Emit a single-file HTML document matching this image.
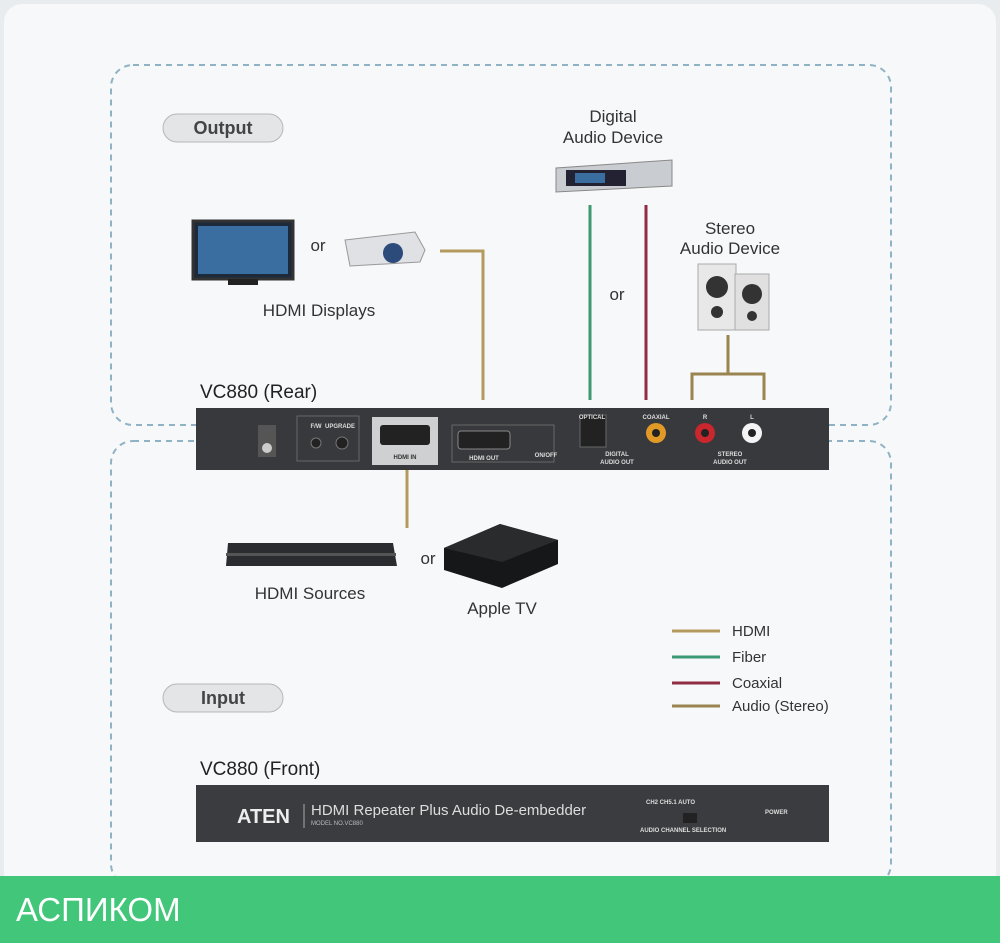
<!DOCTYPE html>
<html><head><meta charset="utf-8"><style>
body{margin:0;width:1000px;height:943px;background:#e9ecee;font-family:"Liberation Sans",sans-serif;overflow:hidden;position:relative}
.card{position:absolute;left:4px;top:4px;width:992px;height:935px;background:#f7f8f9;border-radius:18px}
.bar{position:absolute;left:0;top:876px;width:1000px;height:67px;background:#41c67a;color:#fff;font-size:33px;line-height:67px;padding-left:16px;box-sizing:border-box}
svg{position:absolute;left:0;top:0}
</style></head><body>
<div class="card"></div>
<svg width="1000" height="943" font-family="Liberation Sans, sans-serif">
<rect x="111" y="65" width="780" height="360" rx="22" fill="none" stroke="#8fb3c4" stroke-width="2" stroke-dasharray="6,5"/>
<rect x="111" y="441" width="780" height="445" rx="22" fill="none" stroke="#8fb3c4" stroke-width="2" stroke-dasharray="6,5"/>
<rect x="163" y="114" width="120" height="28" rx="14" fill="#e3e5e7" stroke="#b5b8bb"/>
<text x="223" y="134" text-anchor="middle" font-size="18" font-weight="bold" fill="#444">Output</text>
<rect x="163" y="684" width="120" height="28" rx="14" fill="#e3e5e7" stroke="#b5b8bb"/>
<text x="223" y="704" text-anchor="middle" font-size="18" font-weight="bold" fill="#444">Input</text>
<polyline points="440,251 483,251 483,400" fill="none" stroke="#b49a5e" stroke-width="3"/>
<line x1="590" y1="205" x2="590" y2="400" stroke="#3b9a73" stroke-width="3"/>
<line x1="646" y1="205" x2="646" y2="400" stroke="#8f2d44" stroke-width="3"/>
<polyline points="692,400 692,374 764,374 764,400" fill="none" stroke="#9a8450" stroke-width="3"/>
<line x1="728" y1="374" x2="728" y2="335" stroke="#9a8450" stroke-width="3"/>
<line x1="407" y1="470" x2="407" y2="528" stroke="#b49a5e" stroke-width="3"/>
<rect x="193" y="221" width="100" height="58" fill="#1d2a3a" stroke="#333" stroke-width="3"/>
<rect x="198" y="226" width="90" height="48" fill="#3a6ea0"/>
<rect x="228" y="279" width="30" height="6" fill="#222"/>
<text x="318" y="251" text-anchor="middle" font-size="17" fill="#333">or</text>
<path d="M345 240 L415 232 L425 250 L420 262 L350 266 Z" fill="#dfe1e4" stroke="#999"/>
<circle cx="393" cy="253" r="10" fill="#2c4a7a"/>
<text x="319" y="316" text-anchor="middle" font-size="17" fill="#333">HDMI Displays</text>
<text x="613" y="122" text-anchor="middle" font-size="17" fill="#333">Digital</text>
<text x="613" y="143" text-anchor="middle" font-size="17" fill="#333">Audio Device</text>
<path d="M556 168 L672 160 L672 186 L556 192 Z" fill="#c9ccd1" stroke="#888"/>
<rect x="566" y="170" width="60" height="16" fill="#223"/>
<rect x="575" y="173" width="30" height="10" fill="#3a6ea0"/>
<text x="617" y="300" text-anchor="middle" font-size="17" fill="#333">or</text>
<text x="730" y="234" text-anchor="middle" font-size="17" fill="#333">Stereo</text>
<text x="730" y="254" text-anchor="middle" font-size="17" fill="#333">Audio Device</text>
<rect x="698" y="264" width="38" height="66" fill="#e8e8e8" stroke="#aaa"/>
<circle cx="717" cy="287" r="11" fill="#333"/><circle cx="717" cy="312" r="6" fill="#333"/>
<rect x="735" y="274" width="34" height="56" fill="#e0e0e0" stroke="#aaa"/>
<circle cx="752" cy="294" r="10" fill="#333"/><circle cx="752" cy="316" r="5" fill="#333"/>
<text x="200" y="398" font-size="19" fill="#222">VC880 (Rear)</text>
<rect x="196" y="408" width="633" height="62" fill="#37393c"/>
<rect x="258" y="425" width="18" height="32" fill="#555"/><circle cx="267" cy="448" r="5" fill="#ccc"/>
<rect x="297" y="416" width="62" height="45" fill="none" stroke="#666"/>
<circle cx="316" cy="443" r="5" fill="#222" stroke="#777"/><circle cx="342" cy="443" r="6" fill="#222" stroke="#777"/>
<rect x="372" y="417" width="66" height="48" fill="#cfd0d1"/>
<rect x="380" y="425" width="50" height="20" rx="3" fill="#222"/>
<text x="405" y="459" text-anchor="middle" font-size="6" fill="#333" font-weight="bold">HDMI IN</text>
<rect x="452" y="425" width="102" height="37" fill="none" stroke="#666"/>
<rect x="458" y="431" width="52" height="18" rx="3" fill="#222" stroke="#888"/>
<rect x="580" y="415" width="26" height="32" fill="#222" stroke="#666"/>
<circle cx="656" cy="433" r="10" fill="#e19a26"/><circle cx="656" cy="433" r="4" fill="#222"/>
<circle cx="705" cy="433" r="10" fill="#c9262e"/><circle cx="705" cy="433" r="4" fill="#222"/>
<circle cx="752" cy="433" r="10" fill="#f4f4f4"/><circle cx="752" cy="433" r="4" fill="#222"/>
<g font-size="6" fill="#ddd" font-weight="bold" text-anchor="middle">
<text x="592" y="419">OPTICAL</text><text x="656" y="419">COAXIAL</text><text x="705" y="419">R</text><text x="752" y="419">L</text>
<text x="617" y="456">DIGITAL</text><text x="617" y="464">AUDIO OUT</text>
<text x="730" y="456">STEREO</text><text x="730" y="464">AUDIO OUT</text>
<text x="484" y="460">HDMI OUT</text><text x="546" y="457">ON/OFF</text>
<text x="316" y="428">F/W</text><text x="340" y="428">UPGRADE</text></g>
<path d="M228 543 L393 543 L397 566 L226 566 Z" fill="#2a2c2f"/>
<rect x="226" y="553" width="170" height="3" fill="#555"/>
<text x="428" y="564" text-anchor="middle" font-size="17" fill="#333">or</text>
<path d="M444 548 L500 524 L558 540 L558 564 L502 588 L444 570 Z" fill="#161718"/>
<path d="M444 548 L500 524 L558 540 L502 562 Z" fill="#2a2b2d"/>
<text x="310" y="599" text-anchor="middle" font-size="17" fill="#333">HDMI Sources</text>
<text x="502" y="614" text-anchor="middle" font-size="17" fill="#333">Apple TV</text>
<g font-size="15" fill="#333">
<line x1="672" y1="631" x2="720" y2="631" stroke="#b49a5e" stroke-width="3"/><text x="732" y="636">HDMI</text>
<line x1="672" y1="657" x2="720" y2="657" stroke="#3b9a73" stroke-width="3"/><text x="732" y="662">Fiber</text>
<line x1="672" y1="683" x2="720" y2="683" stroke="#8f2d44" stroke-width="3"/><text x="732" y="688">Coaxial</text>
<line x1="672" y1="706" x2="720" y2="706" stroke="#9a8450" stroke-width="3"/><text x="732" y="711">Audio (Stereo)</text></g>
<text x="200" y="775" font-size="19" fill="#222">VC880 (Front)</text>
<rect x="196" y="785" width="633" height="57" fill="#3a3c3f"/>
<text x="237" y="823" font-size="20" font-weight="bold" fill="#eee">ATEN</text>
<line x1="304" y1="804" x2="304" y2="828" stroke="#aaa"/>
<text x="311" y="815" font-size="15" fill="#ddd">HDMI Repeater Plus Audio De-embedder</text>
<text x="311" y="825" font-size="6" fill="#bbb">MODEL NO.VC880</text>
<g font-size="6" fill="#ddd" font-weight="bold"><text x="646" y="804">CH2 CH5.1 AUTO</text><text x="640" y="832">AUDIO CHANNEL SELECTION</text><text x="765" y="814">POWER</text></g>
<rect x="683" y="813" width="14" height="10" fill="#222"/>
</svg>
<div class="bar">АСПИКОМ</div>
</body></html>
